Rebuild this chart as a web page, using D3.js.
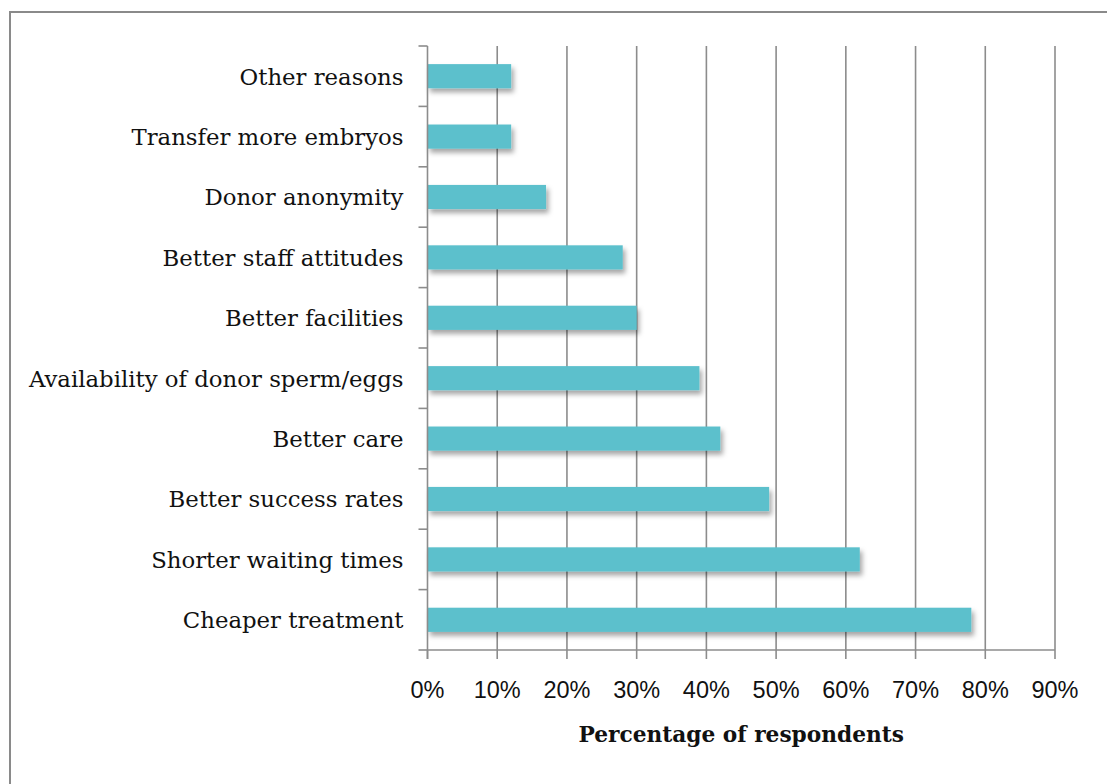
<!DOCTYPE html>
<html>
<head>
<meta charset="utf-8">
<script src="https://cdn.jsdelivr.net/npm/d3@7"></script>
<style>
  html, body { margin: 0; padding: 0; background: #fff; }
  svg { display: block; }
</style>
</head>
<body>
<svg id="chart" width="1107" height="784"></svg>
<script>
// Reasons for seeking fertility treatment abroad, top to bottom
const categories = [
  "Other reasons",
  "Transfer more embryos",
  "Donor anonymity",
  "Better staff attitudes",
  "Better facilities",
  "Availability of donor sperm/eggs",
  "Better care",
  "Better success rates",
  "Shorter waiting times",
  "Cheaper treatment"
];
const percentages = [12, 12, 17, 28, 30, 39, 42, 49, 62, 78];
const tickValues = [0, 10, 20, 30, 40, 50, 60, 70, 80, 90];
const xTitle = "Percentage of respondents";

const svg = d3.select("#chart");
const gridColor = "#8c8c8c";
const barColor = "#5bc0cc";
const serif = "'DejaVu Serif', 'Liberation Serif', serif";

// Soft drop shadow under each bar
const defs = svg.append("defs");
const f = defs.append("filter").attr("id", "barShadow")
  .attr("x", "-10%").attr("y", "-40%").attr("width", "130%").attr("height", "200%");
f.append("feDropShadow").attr("dx", 2.5).attr("dy", 4).attr("stdDeviation", 2.5)
  .attr("flood-color", "#000").attr("flood-opacity", 0.35);

// Outer frame (left and top edges visible)
svg.append("line").attr("x1", 10).attr("y1", 12).attr("x2", 1107).attr("y2", 12)
  .attr("stroke", "#8a8a8a").attr("stroke-width", 2);
svg.append("line").attr("x1", 10).attr("y1", 11).attr("x2", 10).attr("y2", 784)
  .attr("stroke", "#8a8a8a").attr("stroke-width", 2);

const plotLeft = 427.5, plotRight = 1055, plotTop = 46, plotBottom = 650;

const x = d3.scaleLinear().domain([0, 90]).range([plotLeft, plotRight]);
const y = d3.scaleBand().domain(categories).range([plotTop, plotBottom])
  .paddingInner(0.6).paddingOuter(0.3);

// Vertical gridlines
svg.append("g").selectAll("line").data(tickValues.slice(1)).join("line")
  .attr("x1", d => x(d)).attr("x2", d => x(d))
  .attr("y1", plotTop).attr("y2", plotBottom)
  .attr("stroke", gridColor).attr("stroke-width", 1.6);

// Bars
svg.append("g").selectAll("rect").data(categories).join("rect")
  .attr("x", x(0))
  .attr("y", d => y(d))
  .attr("width", (d, i) => x(percentages[i]) - x(0))
  .attr("height", y.bandwidth())
  .attr("fill", barColor)
  .attr("filter", "url(#barShadow)");

// Category axis: line plus ticks at band boundaries
const step = y.step();
const boundaries = d3.range(categories.length + 1).map(i => plotTop + i * step);
svg.append("line").attr("x1", plotLeft).attr("x2", plotLeft)
  .attr("y1", plotTop).attr("y2", plotBottom + 9)
  .attr("stroke", gridColor).attr("stroke-width", 1.6);
svg.append("g").selectAll("line").data(boundaries).join("line")
  .attr("x1", plotLeft - 9).attr("x2", plotLeft).attr("y1", d => d).attr("y2", d => d)
  .attr("stroke", gridColor).attr("stroke-width", 1.6);

// Value axis line and ticks
svg.append("line").attr("x1", plotLeft).attr("x2", plotRight)
  .attr("y1", plotBottom).attr("y2", plotBottom)
  .attr("stroke", gridColor).attr("stroke-width", 1.6);
svg.append("g").selectAll("line").data(tickValues).join("line")
  .attr("x1", d => x(d)).attr("x2", d => x(d)).attr("y1", plotBottom).attr("y2", plotBottom + 9)
  .attr("stroke", gridColor).attr("stroke-width", 1.6);

// Category labels
svg.append("g").selectAll("text").data(categories).join("text")
  .attr("x", plotLeft - 24)
  .attr("y", d => y(d) + y.bandwidth() / 2)
  .attr("dy", "0.37em")
  .attr("text-anchor", "end")
  .attr("font-family", serif)
  .attr("font-size", 22.8)
  .attr("fill", "#111")
  .text(d => d);

// Tick labels
svg.append("g").selectAll("text").data(tickValues).join("text")
  .attr("x", d => x(d))
  .attr("y", 698)
  .attr("text-anchor", "middle")
  .attr("font-family", "'Liberation Sans', Arial, sans-serif")
  .attr("font-size", 23.5)
  .attr("fill", "#111")
  .text(d => d + "%");

// Axis title
svg.append("text")
  .attr("x", (plotLeft + plotRight) / 2)
  .attr("y", 742)
  .attr("text-anchor", "middle")
  .attr("font-family", serif)
  .attr("font-weight", "bold")
  .attr("font-size", 21.7)
  .attr("fill", "#111")
  .text(xTitle);
</script>
</body>
</html>
